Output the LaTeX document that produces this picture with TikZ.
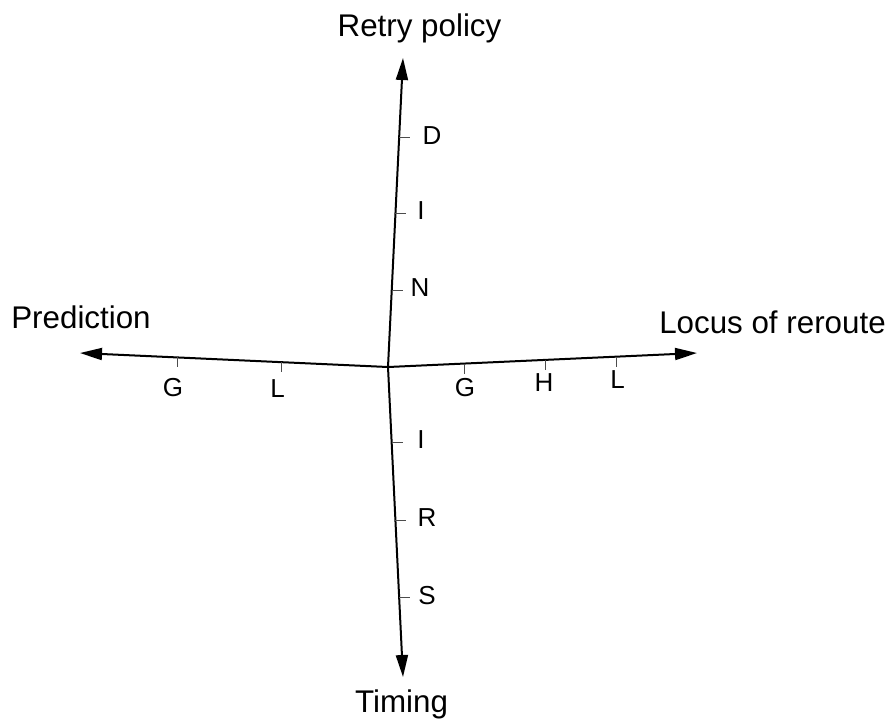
\documentclass[tikz,border=0pt]{standalone}
\usepackage{fontspec}
\setmainfont{Liberation Sans}
\usetikzlibrary{arrows.meta,calc}

\begin{document}
\begin{tikzpicture}[x=0.75pt, y=-0.75pt,
    axis/.style={line width=1.5pt, -{Triangle[length=16.5pt,width=9pt]}},
    tick/.style={line width=0.75pt, black!70},
    axislabel/.style={font=\fontsize{23.5}{28}\selectfont, inner sep=0pt, anchor=base},
    ticklabel/.style={font=\fontsize{19.5}{23}\selectfont, inner sep=0pt}
]
    \useasboundingbox (0,0) rectangle (891,719);

    \coordinate (o) at (388,367);
    \coordinate (up) at (403,58);
    \coordinate (down) at (403,677);
    \coordinate (left) at (80,353);
    \coordinate (right) at (697,353);

    \draw[axis] (o) -- (up);
    \draw[axis] (o) -- (down);
    \draw[axis] (o) -- (left);
    \draw[axis] (o) -- (right);

    \node[axislabel] (retry) at (419.5,36) {Retry policy};
    \node[axislabel] (timing) at (401.5,712) {Timing};
    \node[axislabel] (pred) at (81,328) {Prediction};
    \node[axislabel] (locus) at (772.5,333) {Locus of reroute};

    % retry policy
    \foreach \f/\lab/\lx/\ly [count=\i] in {0.249/N/420/287.5, 0.498/I/421/211, 0.744/D/432/135.5} {
        \draw[tick] ($(o)!\f!(up)$) -- ++(11,0);
        \node[ticklabel] (rp\i) at (\lx,\ly) {\lab};
    }
    % timing
    \foreach \f/\lab/\lx/\ly [count=\i] in {0.245/I/421/440, 0.494/R/427/518, 0.745/S/427/596} {
        \draw[tick] ($(o)!\f!(down)$) -- ++(11,0);
        \node[ticklabel] (tm\i) at (\lx,\ly) {\lab};
    }
    % prediction
    \foreach \f/\lab/\lx/\ly [count=\i] in {0.347/L/277.5/389, 0.685/G/173/387.5} {
        \draw[tick] ($(o)!\f!(left)$) -- ++(0,10);
        \node[ticklabel] (pr\i) at (\lx,\ly) {\lab};
    }
    % locus of reroute
    \foreach \f/\lab/\lx/\ly [count=\i] in {0.249/G/465/387.5, 0.511/H/544/383, 0.741/L/617.5/379.5} {
        \draw[tick] ($(o)!\f!(right)$) -- ++(0,10);
        \node[ticklabel] (lr\i) at (\lx,\ly) {\lab};
    }
\end{tikzpicture}
\end{document}
